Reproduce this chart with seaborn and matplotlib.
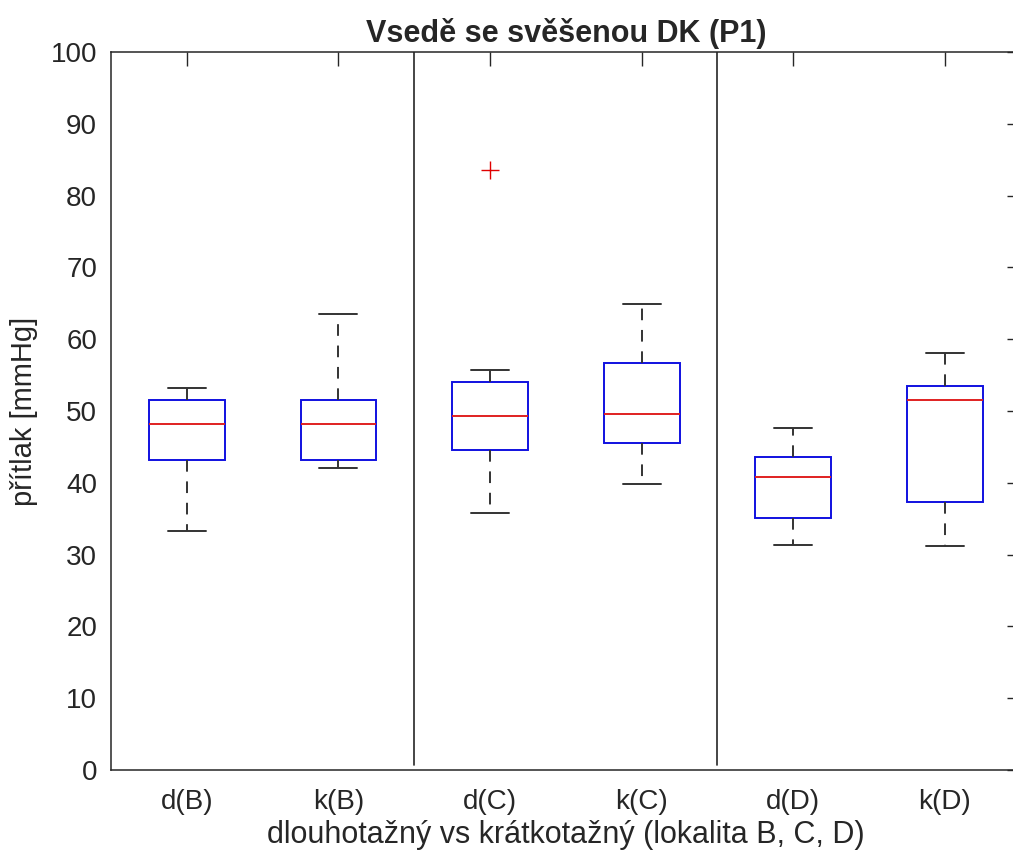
"""Boxplot pritlaku - vsede se svesenou DK (P1)."""

import matplotlib
matplotlib.use("Agg")
import matplotlib.pyplot as plt
import pandas as pd
import seaborn as sns

# skupiny (d = dlouhotazny, k = kratkotazny; lokalita B, C, D)
groups = ["d(B)", "k(B)", "d(C)", "k(C)", "d(D)", "k(D)"]

# hodnoty (min, Q1, median, Q3, max + odlehla hodnota)
d_b = [33.3, 43.2, 48.2, 51.5, 53.2]
k_b = [42.0, 43.2, 48.2, 51.5, 63.5]
d_c = [35.8, 40.0, 44.6, 47.0, 49.3, 52.0, 54.0, 55.7, 83.5]
k_c = [39.8, 45.5, 49.6, 56.7, 64.9]
d_d = [31.3, 35.1, 40.8, 43.6, 47.6]
k_d = [31.2, 37.3, 51.5, 53.5, 58.1]

title = "Vsedě se svěšenou DK (P1)"
xlabel = "dlouhotažný vs krátkotažný (lokalita B, C, D)"
ylabel = "přítlak [mmHg]"
yticks = list(range(0, 101, 10))
# deleni mezi lokalitami (mezi k(B)|d(C) a k(C)|d(D))
separators = [1.5, 3.5]

samples = [d_b, k_b, d_c, k_c, d_d, k_d]
data = pd.DataFrame(
    [(g, v) for g, vals in zip(groups, samples) for v in vals],
    columns=["skupina", "pritlak"],
)

sns.set_style("white")
plt.rcParams["font.family"] = ["Liberation Sans", "DejaVu Sans"]
axis_color = "#262626"

fig = plt.figure(figsize=(10.13, 8.58), dpi=100)
ax = fig.add_axes([0.1096, 0.1026, 0.898, 0.8368])

sns.boxplot(
    data=data, x="skupina", y="pritlak", order=groups, ax=ax,
    width=0.5, color="white", linecolor="black", linewidth=1.4,
    whis=1.5,
    boxprops=dict(edgecolor="#1010e0", facecolor="white"),
    medianprops=dict(color="#e02020"),
    whiskerprops=dict(color="#333333", linestyle=(0, (6, 5))),
    capprops=dict(color="#333333"),
    flierprops=dict(marker="+", markeredgecolor="#e00000", markersize=13,
                    markeredgewidth=1.0),
)

for x in separators:
    ax.axvline(x, ymin=0.007, ymax=1, color=axis_color, linewidth=1.2)

ax.set_xlim(-0.5, len(groups) - 0.5)
ax.set_ylim(0, 100)
ax.set_yticks(yticks)
ax.set_title(title, fontsize=22, fontweight="bold", pad=7)
ax.set_xlabel(xlabel, fontsize=22, color=axis_color, labelpad=3)
ax.set_ylabel(ylabel, fontsize=21, color=axis_color, labelpad=9)
ax.tick_params(axis="both", direction="in", length=10, width=1,
               colors=axis_color, labelsize=20, top=True, right=True,
               labelcolor=axis_color)
ax.tick_params(axis="y", pad=10)
ax.tick_params(axis="x", pad=14)
for spine in ax.spines.values():
    spine.set_color(axis_color)
    spine.set_linewidth(1.1)

fig.savefig("out.png", dpi=100)
